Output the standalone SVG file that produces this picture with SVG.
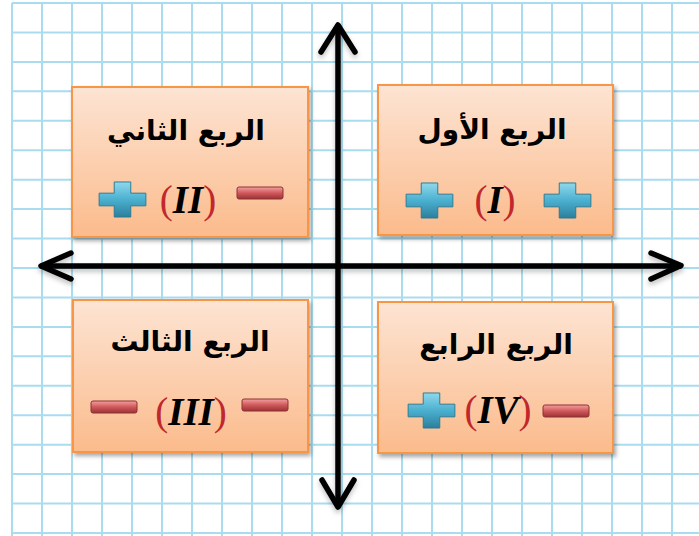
<svg xmlns="http://www.w3.org/2000/svg" width="699" height="536" viewBox="0 0 699 536">
<defs>
<linearGradient id="boxg" x1="0" y1="0" x2="0" y2="1">
<stop offset="0" stop-color="#fde4d3"/>
<stop offset="1" stop-color="#fbbb8c"/>
</linearGradient>
<linearGradient id="plusg" x1="0" y1="0" x2="0" y2="1">
<stop offset="0" stop-color="#8fd8ec"/>
<stop offset="0.5" stop-color="#4bb0cf"/>
<stop offset="1" stop-color="#2b7f9c"/>
</linearGradient>
<linearGradient id="minusg" x1="0" y1="0" x2="0" y2="1">
<stop offset="0" stop-color="#f2a0a2"/>
<stop offset="0.5" stop-color="#d0585b"/>
<stop offset="1" stop-color="#9a3336"/>
</linearGradient>
<filter id="shadow" x="-10%" y="-10%" width="125%" height="125%">
<feDropShadow dx="2" dy="3" stdDeviation="2" flood-color="#000" flood-opacity="0.35"/>
</filter>
<filter id="ashadow" x="-10%" y="-10%" width="120%" height="120%">
<feDropShadow dx="0" dy="3" stdDeviation="2.5" flood-color="#000" flood-opacity="0.25"/>
</filter>
<symbol id="plus" viewBox="-25 -19 50 38" overflow="visible">
<path d="M-8.5,-18 h17 v11.5 h15.5 v13 h-15.5 v11.5 h-17 v-11.5 h-15.5 v-13 h15.5 z" fill="url(#plusg)" stroke="#2a7a94" stroke-width="1" stroke-linejoin="round"/>
</symbol>
<symbol id="minus" viewBox="-24 -7 48 14" overflow="visible">
<rect x="-23" y="-6" width="46" height="12" rx="2" fill="url(#minusg)" stroke="#8e3033" stroke-width="1"/>
</symbol>
</defs>
<style>
.grid line { stroke: #a9dcef; stroke-width: 2; }
.box { fill: url(#boxg); stroke: #f79646; stroke-width: 2; filter: url(#shadow); }
.title { font-family: "DejaVu Sans", sans-serif; font-weight: bold; font-size: 28px; fill: #000; text-anchor: middle; }
.num { font-family: "Liberation Serif", serif; font-size: 39px; text-anchor: middle; }
.par { fill: #c0282d; font-style: normal; font-weight: normal; }
.rom { fill: #000; font-style: italic; font-weight: bold; }
.axis { stroke: #000; stroke-width: 5.5; fill: none; stroke-linecap: round; stroke-linejoin: round; }
</style>
<rect width="699" height="536" fill="#fff"/>
<g class="grid">
<line x1="12" y1="3" x2="12" y2="536"/>
<line x1="42" y1="3" x2="42" y2="536"/>
<line x1="72" y1="3" x2="72" y2="536"/>
<line x1="102" y1="3" x2="102" y2="536"/>
<line x1="132" y1="3" x2="132" y2="536"/>
<line x1="162" y1="3" x2="162" y2="536"/>
<line x1="192" y1="3" x2="192" y2="536"/>
<line x1="222" y1="3" x2="222" y2="536"/>
<line x1="252" y1="3" x2="252" y2="536"/>
<line x1="282" y1="3" x2="282" y2="536"/>
<line x1="312" y1="3" x2="312" y2="536"/>
<line x1="342" y1="3" x2="342" y2="536"/>
<line x1="372" y1="3" x2="372" y2="536"/>
<line x1="402" y1="3" x2="402" y2="536"/>
<line x1="432" y1="3" x2="432" y2="536"/>
<line x1="462" y1="3" x2="462" y2="536"/>
<line x1="492" y1="3" x2="492" y2="536"/>
<line x1="522" y1="3" x2="522" y2="536"/>
<line x1="552" y1="3" x2="552" y2="536"/>
<line x1="582" y1="3" x2="582" y2="536"/>
<line x1="612" y1="3" x2="612" y2="536"/>
<line x1="642" y1="3" x2="642" y2="536"/>
<line x1="672" y1="3" x2="672" y2="536"/>
<line x1="12" y1="3" x2="699" y2="3"/>
<line x1="12" y1="32.4" x2="699" y2="32.4"/>
<line x1="12" y1="61.9" x2="699" y2="61.9"/>
<line x1="12" y1="91.3" x2="699" y2="91.3"/>
<line x1="12" y1="120.8" x2="699" y2="120.8"/>
<line x1="12" y1="150.2" x2="699" y2="150.2"/>
<line x1="12" y1="179.7" x2="699" y2="179.7"/>
<line x1="12" y1="209.1" x2="699" y2="209.1"/>
<line x1="12" y1="238.6" x2="699" y2="238.6"/>
<line x1="12" y1="268" x2="699" y2="268"/>
<line x1="12" y1="297.4" x2="699" y2="297.4"/>
<line x1="12" y1="326.9" x2="699" y2="326.9"/>
<line x1="12" y1="356.3" x2="699" y2="356.3"/>
<line x1="12" y1="385.8" x2="699" y2="385.8"/>
<line x1="12" y1="415.2" x2="699" y2="415.2"/>
<line x1="12" y1="444.7" x2="699" y2="444.7"/>
<line x1="12" y1="474.1" x2="699" y2="474.1"/>
<line x1="12" y1="503.6" x2="699" y2="503.6"/>
<line x1="12" y1="533" x2="699" y2="533"/>
</g>
<g id="q2">
<rect class="box" x="72" y="87" width="236" height="150"/>
<text class="title" x="186" y="140">الربع الثاني</text>
<use href="#plus" x="98" y="181" width="49" height="37"/>
<text class="num" x="188" y="213"><tspan class="par">(</tspan><tspan class="rom">II</tspan><tspan class="par">)</tspan></text>
<use href="#minus" x="236" y="186" width="48" height="14"/>
</g>
<g id="q1">
<rect class="box" x="378" y="85" width="235" height="150"/>
<text class="title" x="492" y="139">الربع الأول</text>
<use href="#plus" x="405" y="182" width="49" height="37"/>
<text class="num" x="495" y="213"><tspan class="par">(</tspan><tspan class="rom">I</tspan><tspan class="par">)</tspan></text>
<use href="#plus" x="543" y="182" width="49" height="37"/>
</g>
<g id="q3">
<rect class="box" x="73" y="300" width="235" height="152"/>
<text class="title" x="190" y="351">الربع الثالث</text>
<use href="#minus" x="90" y="400" width="48" height="14"/>
<text class="num" x="191" y="425"><tspan class="par">(</tspan><tspan class="rom">III</tspan><tspan class="par">)</tspan></text>
<use href="#minus" x="241" y="398" width="48" height="14"/>
</g>
<g id="q4">
<rect class="box" x="378" y="302" width="235" height="151"/>
<text class="title" x="496" y="354">الربع الرابع</text>
<use href="#plus" x="407" y="392" width="49" height="37"/>
<text class="num" x="498" y="423"><tspan class="par">(</tspan><tspan class="rom">IV</tspan><tspan class="par">)</tspan></text>
<use href="#minus" x="542" y="404" width="48" height="14"/>
</g>
<g id="connectors" filter="url(#ashadow)">
<path class="axis" d="M338,26 V506"/>
<path class="axis" d="M321,52 L338,25 L355,52"/>
<path class="axis" d="M322,480 L338,507 L354,480"/>
<path class="axis" d="M42,266 H680"/>
<path class="axis" d="M71,253 L41,266 L71,279"/>
<path class="axis" d="M651,253 L681,265.5 L651,279"/>
</g>
</svg>
